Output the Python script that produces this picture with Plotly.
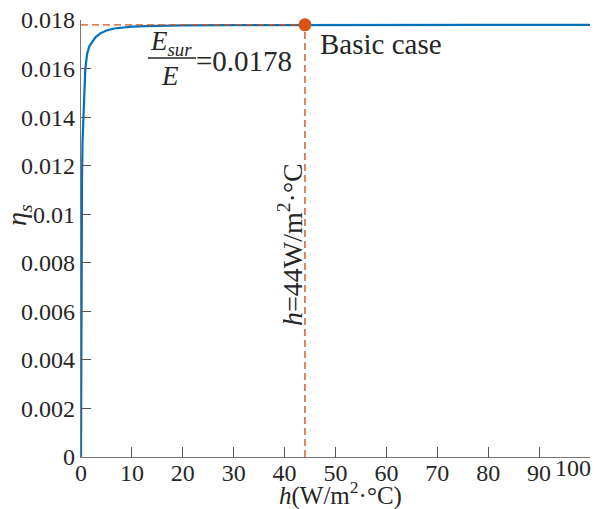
import plotly.graph_objects as go

# ---- data ----
h_vals = [0, 0.02, 0.05, 0.1, 0.2, 0.3, 0.45, 0.6, 0.85, 1.2, 1.6, 2.2, 2.9, 3.8,
          4.9, 6.5, 8.2, 10, 12.7, 16, 20, 30, 44, 60, 80, 100]
eta_vals = [0, 0.003, 0.006, 0.009, 0.0115, 0.013, 0.014, 0.0152, 0.016, 0.0166,
            0.0169, 0.0171, 0.0173, 0.01745, 0.01756, 0.01765, 0.0177, 0.01773,
            0.01775, 0.01777, 0.01778, 0.01779, 0.0178, 0.0178, 0.0178, 0.0178]
basic_h = 44
basic_eta = 0.0178
x_ticks = [0, 10, 20, 30, 40, 50, 60, 70, 80, 90, 100]
y_ticks = [0, 0.002, 0.004, 0.006, 0.008, 0.01, 0.012, 0.014, 0.016, 0.018]
y_tick_text = ["0", "0.002", "0.004", "0.006", "0.008", "0.01", "0.012", "0.014", "0.016", "0.018"]

W, H = 596, 509
L, R, T, B = 81, 6, 20, 52
FONT = "Liberation Serif"
TXT = "#262626"
BLUE = "#0072BD"
ORANGE = "#D95319"


def px(x):
    return (x - L) / (W - L - R)


def py(y):
    return (H - B - y) / (H - T - B)


fig = go.Figure()
fig.add_trace(go.Scatter(x=h_vals, y=eta_vals, mode="lines",
                         line=dict(color=BLUE, width=2.2), showlegend=False))
fig.add_trace(go.Scatter(x=[0, basic_h], y=[basic_eta, basic_eta], mode="lines",
                         line=dict(color=ORANGE, width=1.4, dash="7px,4px"), showlegend=False))
fig.add_trace(go.Scatter(x=[basic_h, basic_h], y=[0, basic_eta], mode="lines",
                         line=dict(color=ORANGE, width=1.4, dash="7px,4px"), showlegend=False))
fig.add_trace(go.Scatter(x=[basic_h], y=[basic_eta], mode="markers",
                         marker=dict(color=ORANGE, size=13, line=dict(width=0)),
                         showlegend=False, cliponaxis=False))

x_tick_text = [str(v) for v in x_ticks[:-1]] + [""]

fig.update_xaxes(range=[0, 100], tickvals=x_ticks, ticktext=x_tick_text,
                 ticks="inside", ticklen=10, tickcolor="#555", tickwidth=1,
                 showline=True, linecolor="#777", linewidth=1.2,
                 showgrid=False, zeroline=False, ticklabelstandoff=-6,
                 tickfont=dict(family=FONT, size=24, color=TXT))
fig.update_yaxes(range=[0, 0.018], tickvals=y_ticks, ticktext=y_tick_text,
                 ticks="inside", ticklen=10, tickcolor="#555", tickwidth=1,
                 showline=True, linecolor="#777", linewidth=1.2,
                 showgrid=False, zeroline=False,
                 tickfont=dict(family=FONT, size=24, color=TXT))

ann = []
# last x tick label shifted to fit inside the figure
ann.append(dict(x=px(593), y=py(468), xref="paper", yref="paper", text="100",
                xanchor="right", yanchor="middle", showarrow=False,
                font=dict(family=FONT, size=24, color=TXT)))
# axis titles
ann.append(dict(x=px(340), y=py(493), xref="paper", yref="paper",
                text="<i>h</i>(W/m<sup>2</sup>·°C)", showarrow=False,
                xanchor="center", yanchor="middle",
                font=dict(family=FONT, size=25, color=TXT)))
ann.append(dict(x=px(18), y=py(215), xref="paper", yref="paper",
                text="<i>η<sub>s</sub></i>", showarrow=False, textangle=-90,
                xanchor="center", yanchor="middle",
                font=dict(family=FONT, size=28, color=TXT)))
# fraction E_sur / E = 0.0178
ann.append(dict(x=px(171), y=py(43), xref="paper", yref="paper",
                text="<i>E<sub>sur</sub></i>", showarrow=False,
                xanchor="center", yanchor="middle",
                font=dict(family=FONT, size=27, color=TXT)))
ann.append(dict(x=px(170), y=py(76), xref="paper", yref="paper",
                text="<i>E</i>", showarrow=False,
                xanchor="center", yanchor="middle",
                font=dict(family=FONT, size=27, color=TXT)))
ann.append(dict(x=px(194), y=py(61), xref="paper", yref="paper",
                text="=0.0178", showarrow=False,
                xanchor="left", yanchor="middle",
                font=dict(family=FONT, size=29, color=TXT)))
# Basic case label
ann.append(dict(x=px(318), y=py(44), xref="paper", yref="paper",
                text="Basic case", showarrow=False,
                xanchor="left", yanchor="middle",
                font=dict(family=FONT, size=29, color=TXT)))
# vertical label
ann.append(dict(x=px(290), y=py(245), xref="paper", yref="paper",
                text="<i>h</i>=44W/m<sup>2</sup>·°C", showarrow=False, textangle=-90,
                xanchor="center", yanchor="middle",
                font=dict(family=FONT, size=28, color=TXT)))

shapes = [dict(type="line", xref="paper", yref="paper",
               x0=px(148), x1=px(196), y0=py(58), y1=py(58),
               line=dict(color=TXT, width=1.3))]

fig.update_layout(width=W, height=H, margin=dict(l=L, r=R, t=T, b=B),
                  paper_bgcolor="white", plot_bgcolor="white",
                  annotations=ann, shapes=shapes, showlegend=False)

fig.write_html("out.html")
